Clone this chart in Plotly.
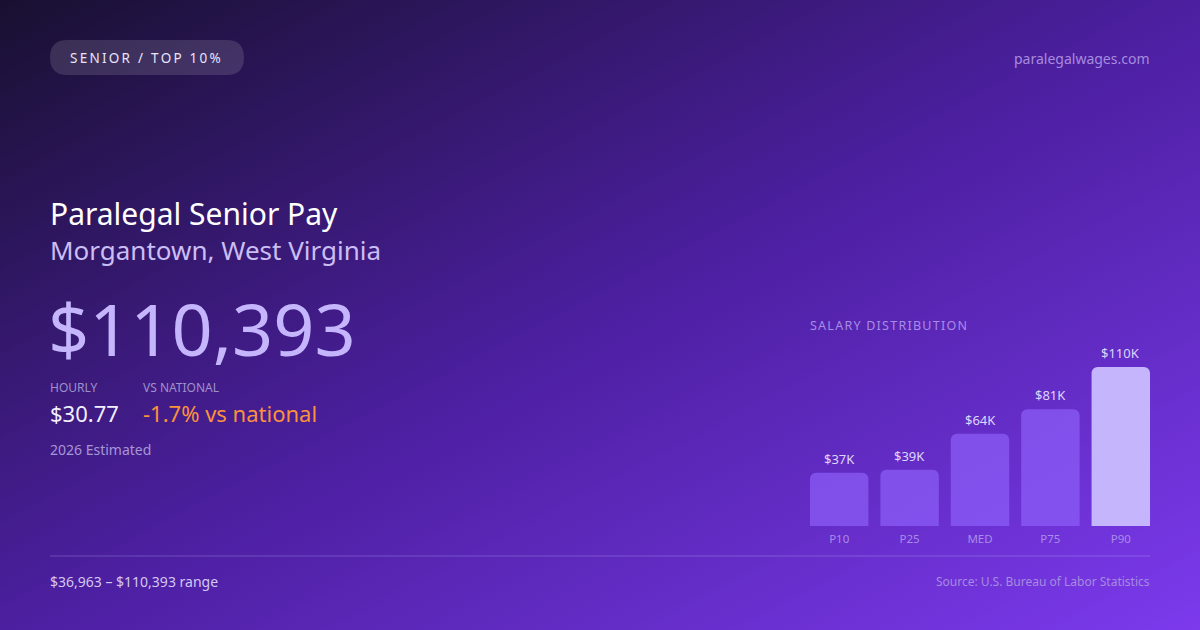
import base64
import plotly.graph_objects as go

# ---------------------------------------------------------------------------
# DATOS
# ---------------------------------------------------------------------------
percentiles = ['P10', 'P25', 'MED', 'P75', 'P90']
salaries = [36963, 39000, 64000, 81000, 110393]
salary_labels = ['$37K', '$39K', '$64K', '$81K', '$110K']

badge_text = 'SENIOR / TOP 10%'
site_text = 'paralegalwages.com'
title_text = 'Paralegal Senior Pay'
location_text = 'Morgantown, West Virginia'
headline_value = '$110,393'
hourly_value = '$30.77'
national_value = '-1.7% vs national'
estimate_text = '2026 Estimated'
range_text = '$36,963 – $110,393 range'
source_text = 'Source: U.S. Bureau of Labor Statistics'

W, H = 1200, 630
FONT = 'Noto Sans'


def px(x):
    return x / W


def py(y):
    return 1 - y / H


def spaced(s, gap='\u200a'):
    return gap.join(s)


# ---------------------------------------------------------------------------
# FONDO DEGRADADO (SVG embebido)
# ---------------------------------------------------------------------------
svg = f"""<svg xmlns='http://www.w3.org/2000/svg' width='{W}' height='{H}' viewBox='0 0 {W} {H}' preserveAspectRatio='none'>
<defs><linearGradient id='g' x1='0' y1='0' x2='1' y2='1'>
<stop offset='0' stop-color='#181030'/>
<stop offset='0.5' stop-color='#4c1fa0'/>
<stop offset='1' stop-color='#7c3aed'/>
</linearGradient></defs>
<rect width='{W}' height='{H}' fill='url(#g)'/></svg>"""
bg_uri = 'data:image/svg+xml;base64,' + base64.b64encode(svg.encode()).decode()

fig = go.Figure()

# Barras de distribución
bar_colors = ['rgba(139,92,246,0.75)'] * 4 + ['#c4b5fd']
fig.add_trace(go.Bar(
    x=percentiles, y=salaries,
    marker=dict(color=bar_colors, cornerradius=6, line=dict(width=0)),
    hoverinfo='skip', showlegend=False,
))

annotations = []
for cat, val, lab in zip(percentiles, salaries, salary_labels):
    annotations.append(dict(
        x=cat, y=val, xref='x', yref='y', text=lab, showarrow=False,
        yanchor='bottom', yshift=3,
        font=dict(family=FONT, size=13, color='#ddd6fe'),
    ))


def txt(x, y, text, size, color, xanchor='left'):
    # corrección de ~2 px del relleno interno de las anotaciones
    x = x - 2 if xanchor == 'left' else x + 2
    annotations.append(dict(
        x=px(x), y=py(y), xref='paper', yref='paper', text=text,
        showarrow=False, xanchor=xanchor, yanchor='middle',
        font=dict(family=FONT, size=size, color=color),
    ))


txt(70, 58, spaced(badge_text, '\u2009'), 13.5, '#e9e3fb')
txt(1150, 58, site_text, 14, '#a78bdf', 'right')
txt(50, 213, title_text, 30, '#ffffff')
txt(50, 250, location_text, 26, '#cbbef5')
txt(48, 328, headline_value, 72, '#c4b5fd')
txt(50, 387, 'HOURLY', 12, '#9f91cc')
txt(143, 387, 'VS NATIONAL', 12, '#9f91cc')
txt(50, 413, hourly_value, 22, '#f3efff')
txt(143, 413, national_value, 22, '#fb923c')
txt(50, 449, estimate_text, 14, '#a796d6')
txt(810, 325, spaced('SALARY DISTRIBUTION'), 12.5, '#a98be8')
txt(50, 581, range_text, 14, '#d4c8f2')
txt(1150, 581, source_text, 12, '#a78be0', 'right')

shapes = [
    # Etiqueta superior (forma de píldora)
    dict(type='path', xref='paper', yref='paper',
         path=(f'M {px(67.5)},{py(40)} L {px(226.5)},{py(40)} '
               f'Q {px(244)},{py(40)} {px(244)},{py(57.5)} '
               f'Q {px(244)},{py(75)} {px(226.5)},{py(75)} '
               f'L {px(67.5)},{py(75)} '
               f'Q {px(50)},{py(75)} {px(50)},{py(57.5)} '
               f'Q {px(50)},{py(40)} {px(67.5)},{py(40)} Z'),
         fillcolor='rgba(255,255,255,0.13)', line=dict(width=0), layer='below'),
    # Línea separadora inferior
    dict(type='line', xref='paper', yref='paper',
         x0=px(50), x1=px(1150), y0=py(556), y1=py(556),
         line=dict(color='rgba(196,181,253,0.3)', width=1)),
]

fig.update_layout(
    width=W, height=H,
    margin=dict(l=0, r=0, t=0, b=0),
    paper_bgcolor='#3b1a80', plot_bgcolor='rgba(0,0,0,0)',
    images=[dict(source=bg_uri, xref='paper', yref='paper', x=0, y=1,
                 sizex=1, sizey=1, xanchor='left', yanchor='top',
                 sizing='stretch', layer='below')],
    xaxis=dict(domain=[px(804), px(1156)], showgrid=False, zeroline=False,
               showline=False, ticks='', fixedrange=True, ticklabelstandoff=4,
               tickfont=dict(family=FONT, size=11.5, color='#a98be8')),
    yaxis=dict(domain=[py(526), py(353.2)], range=[0, 120000], visible=False,
               fixedrange=True),
    bargap=0.17,
    annotations=annotations,
    shapes=shapes,
    font=dict(family=FONT),
)

fig.write_html('out.html', config={'displayModeBar': False},
               post_script="document.body.style.margin='0';")
